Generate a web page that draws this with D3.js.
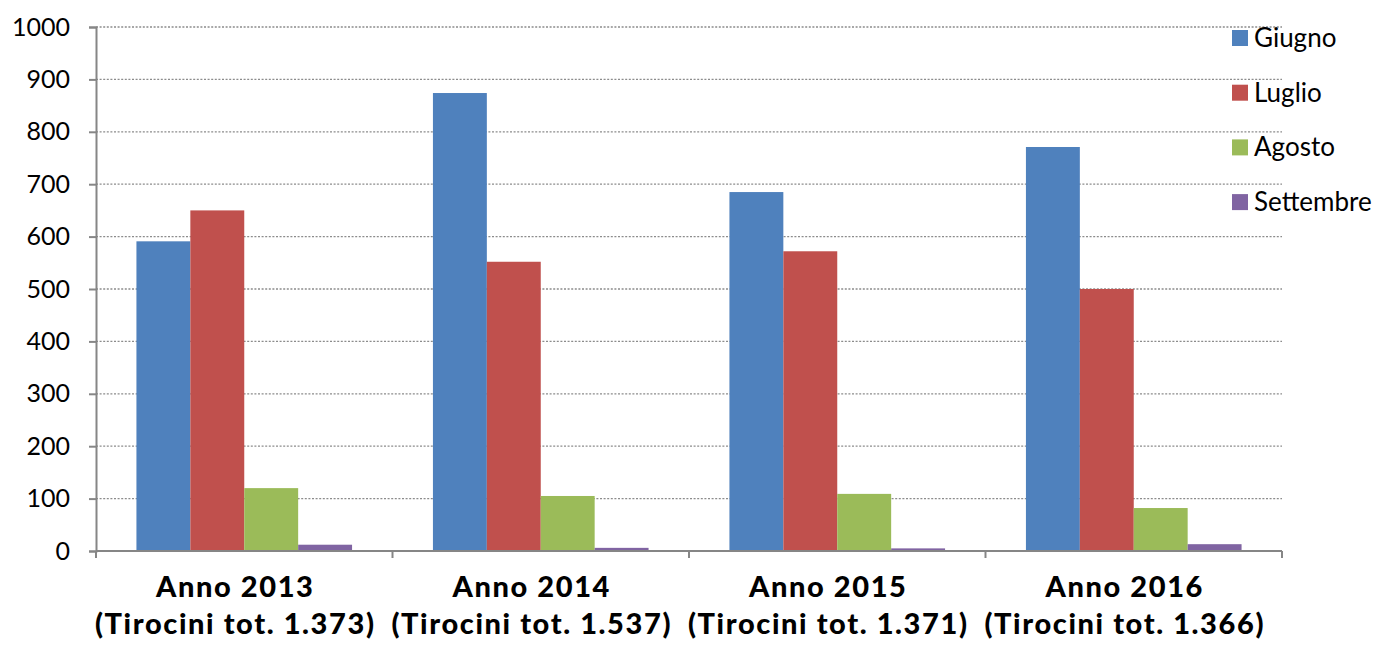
<!DOCTYPE html>
<html>
<head>
<meta charset="utf-8">
<script src="https://cdn.jsdelivr.net/npm/d3@7"></script>
<style>
  body { margin: 0; background: #fff; }
  svg { display: block; font-family: 'Lato', 'Open Sans', sans-serif; }
</style>
</head>
<body>
<svg id="chart"></svg>
<script>
let categories = ['Anno 2013', 'Anno 2014', 'Anno 2015', 'Anno 2016']
let subLabels = ['(Tirocini tot. 1.373)', '(Tirocini tot. 1.537)', '(Tirocini tot. 1.371)', '(Tirocini tot. 1.366)']
let months = ['Giugno', 'Luglio', 'Agosto', 'Settembre']
let giugno = [591, 874, 685, 771]
let luglio = [650, 552, 572, 500]
let agosto = [120, 105, 109, 82]
let settembre = [12, 6, 5, 13]
let colors = ['#4f81bd', '#c0504d', '#9bbb59', '#8064a2']
let yTicks = [0, 100, 200, 300, 400, 500, 600, 700, 800, 900, 1000]

let series = [giugno, luglio, agosto, settembre]

let width = 1381
let height = 645
let plotLeft = 96
let plotRight = 1282
let plotTop = 27
let plotBottom = 551

let svg = d3.select('#chart')
  .attr('width', width)
  .attr('height', height)

let xScale = d3.scaleBand()
  .domain(categories)
  .range([plotLeft, plotRight])
  .paddingInner(0)
  .paddingOuter(0)

// gap width 150% -> 4 bars + 1.5 bar of gap per category
let innerScale = d3.scaleBand()
  .domain(months)
  .range([0, xScale.bandwidth()])
  .paddingOuter(0.75)
  .paddingInner(0)

let yScale = d3.scaleLinear()
  .domain([0, 1000])
  .range([plotBottom, plotTop])

// gridlines
svg.append('g')
  .selectAll('line')
  .data(yTicks.filter(d => d > 0))
  .enter()
  .append('line')
  .attr('x1', plotLeft)
  .attr('x2', plotRight)
  .attr('y1', d => yScale(d))
  .attr('y2', d => yScale(d))
  .attr('stroke', '#8c8c8c')
  .attr('stroke-width', 1.3)
  .attr('stroke-dasharray', '2 1.6')

// bars
months.forEach((m, i) => {
  svg.append('g')
    .selectAll('rect')
    .data(series[i])
    .enter()
    .append('rect')
    .attr('x', (d, j) => xScale(categories[j]) + innerScale(m))
    .attr('y', d => yScale(d))
    .attr('width', innerScale.bandwidth())
    .attr('height', d => plotBottom - yScale(d))
    .attr('fill', colors[i])
})

// y axis
let yAxis = d3.axisLeft(yScale)
  .tickValues(yTicks)
  .tickSize(7)
  .tickPadding(19)
  .tickFormat(d3.format('d'))

let yG = svg.append('g')
  .attr('transform', 'translate(' + plotLeft + ', 0)')
  .call(yAxis)
yG.select('.domain').attr('stroke', '#868686').attr('stroke-width', 2)
yG.selectAll('.tick line').attr('stroke', '#868686').attr('stroke-width', 2)
yG.selectAll('.tick text')
  .attr('font-family', 'Lato, sans-serif')
  .attr('font-size', 25)
  .attr('fill', '#000')

// x axis
let xG = svg.append('g')
xG.append('line')
  .attr('x1', plotLeft)
  .attr('x2', plotRight)
  .attr('y1', plotBottom)
  .attr('y2', plotBottom)
  .attr('stroke', '#868686')
  .attr('stroke-width', 2)
let bounds = categories.map(c => xScale(c)).concat([plotRight])
xG.selectAll('.xtick')
  .data(bounds)
  .enter()
  .append('line')
  .attr('x1', d => d)
  .attr('x2', d => d)
  .attr('y1', plotBottom)
  .attr('y2', plotBottom + 7)
  .attr('stroke', '#868686')
  .attr('stroke-width', 2)

let labels = xG.selectAll('.xlabel')
  .data(categories)
  .enter()
  .append('text')
  .attr('text-anchor', 'middle')
  .attr('font-family', 'Lato, sans-serif')
  .attr('font-size', 29)
  .attr('font-weight', 900)
  .attr('letter-spacing', 1.6)
  .attr('fill', '#000')
labels.append('tspan')
  .attr('x', d => xScale(d) + xScale.bandwidth() / 2 - 9)
  .attr('y', 597)
  .text(d => d)
labels.append('tspan')
  .attr('x', d => xScale(d) + xScale.bandwidth() / 2 - 9)
  .attr('y', 634)
  .text((d, i) => subLabels[i])

// legend
let legend = svg.append('g')
  .selectAll('g')
  .data(months)
  .enter()
  .append('g')
  .attr('transform', (d, i) => 'translate(1232, ' + (30 + i * 54.7) + ')')
legend.append('rect')
  .attr('width', 16)
  .attr('height', 16)
  .attr('fill', (d, i) => colors[i])
legend.append('text')
  .attr('x', 22)
  .attr('y', 17)
  .attr('font-size', 26)
  .attr('fill', '#000')
  .text(d => d)
</script>
</body>
</html>
